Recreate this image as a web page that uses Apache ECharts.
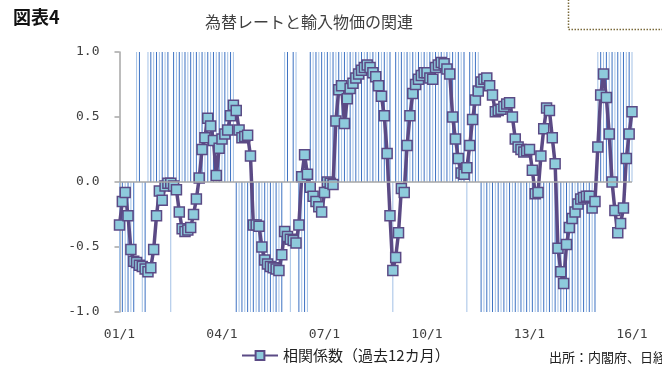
<!DOCTYPE html>
<html>
<head>
<meta charset="utf-8">
<script src="https://cdn.jsdelivr.net/npm/echarts@6/dist/echarts.min.js"></script>
<style>
  html, body { margin: 0; padding: 0; background: #fff; }
  #chart { width: 662px; height: 369px; }
</style>
</head>
<body>
<div id="chart"></div>
<script>
// Monthly series, 2001/1 - 2016/1 (one row per year)
const startYear = 2001;
const corr12m = [
  -0.33,-0.15,-0.08,-0.26,-0.52,-0.61,-0.62,-0.64,-0.65,-0.67,-0.69,-0.66,
  -0.52,-0.26,-0.07,-0.14,-0.03,-0.01,-0.01,-0.03,-0.06,-0.23,-0.36,-0.38,
  -0.37,-0.35,-0.25,-0.13, 0.03, 0.25, 0.34, 0.49, 0.43, 0.32, 0.05, 0.26,
   0.33, 0.37, 0.40, 0.51, 0.59, 0.55, 0.40, 0.34, 0.35, 0.36, 0.20,-0.33,
  -0.33,-0.34,-0.50,-0.60,-0.63,-0.65,-0.66,-0.67,-0.68,-0.56,-0.38,-0.42,
  -0.44,-0.45,-0.47,-0.33, 0.04, 0.21, 0.06,-0.04,-0.11,-0.15,-0.19,-0.23,
  -0.08, 0.00,-0.01,-0.02, 0.47, 0.71, 0.74, 0.45, 0.64, 0.72, 0.76, 0.80,
   0.83, 0.86, 0.88, 0.90, 0.88, 0.84, 0.81, 0.74, 0.66, 0.51, 0.22,-0.26,
  -0.68,-0.58,-0.39,-0.05,-0.08, 0.28, 0.51, 0.68, 0.75, 0.79, 0.82, 0.84,
   0.84, 0.80, 0.79, 0.88, 0.90, 0.92, 0.91, 0.87, 0.83, 0.50, 0.33, 0.18,
   0.07, 0.06, 0.11, 0.28, 0.48, 0.63, 0.70, 0.77, 0.79, 0.80, 0.74, 0.67,
   0.54, 0.55, 0.56, 0.58, 0.60, 0.61, 0.50, 0.33, 0.27, 0.25, 0.23, 0.24,
   0.25, 0.09,-0.09,-0.08, 0.20, 0.41, 0.57, 0.55, 0.34, 0.14,-0.51,-0.69,
  -0.78,-0.48,-0.35,-0.28,-0.23,-0.17,-0.13,-0.12,-0.11,-0.11,-0.20,-0.15,
   0.27, 0.67, 0.83, 0.65, 0.37, 0.00,-0.22,-0.39,-0.32,-0.20, 0.18, 0.37,
   0.54
];
// Shading: +1 / -1 phase flag for each month
const phase = [
  -1,-1,-1,-1,-1,-1, 1, 1,-1,-1, 1, 1,
   1, 1, 1, 1, 1, 1,-1, 1, 1, 1, 1, 1,
   1, 1, 1, 1, 1, 1, 1, 1, 1, 1, 1, 1,
   1, 1, 1, 1, 1,-1,-1,-1,-1,-1,-1,-1,
  -1,-1,-1,-1,-1,-1,-1,-1,-1,-1, 1, 1,
  -1, 1, 1,-1,-1,-1,-1, 1, 1, 1, 1, 1,
   1, 1, 1, 1, 1, 1, 1, 1, 1, 1, 1, 1,
   1, 1, 1, 1, 1, 1, 1, 1, 1, 1, 1, 1,
  -1, 1, 1, 1, 1, 1, 1, 1, 1, 1, 1, 1,
   1, 1, 1, 1, 1, 1, 1, 1, 1, 1, 1, 1,
   1, 1,-1, 1, 1, 1, 1,-1,-1,-1,-1,-1,
  -1,-1,-1,-1,-1,-1,-1,-1,-1,-1,-1,-1,
  -1,-1,-1,-1,-1,-1,-1,-1,-1,-1,-1,-1,
  -1,-1,-1,-1,-1,-1,-1,-1,-1,-1,-1,-1,
   1, 1, 1, 1, 1, 1, 1, 1, 1, 1, 1, 1,
   1
];
const yTicks = [-1.0, -0.5, 0.0, 0.5, 1.0];
const seriesName = '相関係数（過去12カ月）';

// Category labels "yy/m"
const months = corr12m.map((_, i) => {
  const y = startYear + Math.floor(i / 12);
  return String(y % 100).padStart(2, '0') + '/' + (i % 12 + 1);
});

const chart = echarts.init(document.getElementById('chart'), null, { renderer: 'canvas' });
const monoFont = '"DejaVu Sans Mono", monospace';
const jpFont = '"Noto Sans CJK JP", sans-serif';

chart.setOption({
  animation: false,
  backgroundColor: '#ffffff',
  grid: { left: 119.5, right: 30, top: 52, bottom: 57, containLabel: false },
  xAxis: {
    type: 'category',
    data: months,
    boundaryGap: false,
    axisLine: { show: false },
    axisTick: { show: false },
    axisLabel: {
      interval: 35,
      margin: 16,
      color: '#404040',
      fontFamily: monoFont,
      fontSize: 13
    },
    splitLine: { show: false }
  },
  yAxis: {
    type: 'value',
    min: yTicks[0],
    max: yTicks[yTicks.length - 1],
    interval: 0.5,
    axisLine: { show: true, lineStyle: { color: '#a6a6a6', width: 1.5 } },
    axisTick: { show: true, length: 5, lineStyle: { color: '#a6a6a6', width: 1.5 } },
    axisLabel: {
      margin: 20,
      color: '#404040',
      fontFamily: monoFont,
      fontSize: 13,
      formatter: v => v.toFixed(1)
    },
    splitLine: { show: false }
  },
  legend: {
    data: [seriesName],
    left: 236,
    top: 343,
    itemWidth: 36,
    itemHeight: 11,
    itemGap: 2,
    textStyle: { fontFamily: jpFont, fontSize: 15, color: '#222' }
  },
  series: [
    {
      name: 'phase',
      type: 'bar',
      data: phase,
      barWidth: 1,
      itemStyle: {
        // alternate two blues so the thin month bars read as a hatch
        color: p => (p.dataIndex % 2 ? '#3c71c2' : '#a3c1e6')
      },
      silent: true,
      z: 1,
      markLine: {
        silent: true,
        symbol: 'none',
        label: { show: false },
        lineStyle: { color: '#a6a6a6', width: 1.5, type: 'solid' },
        data: [{ yAxis: 0 }]
      }
    },
    {
      name: seriesName,
      type: 'line',
      data: corr12m,
      symbol: 'rect',
      symbolSize: 10,
      showSymbol: true,
      showAllSymbol: true,
      lineStyle: { color: '#5b4a85', width: 3.5 },
      itemStyle: { color: '#8ecbdc', borderColor: '#5b4a85', borderWidth: 1.5 },
      z: 3
    }
  ],
  graphic: [
    {
      type: 'text', left: 13, top: 8,
      style: { text: '図表4', font: 'bold 18px ' + jpFont, fill: '#111' }
    },
    {
      type: 'text', x: 309, y: 22,
      style: { text: '為替レートと輸入物価の関連', font: '16px ' + jpFont, fill: '#404040',
               textAlign: 'center', textVerticalAlign: 'middle' }
    },
    {
      type: 'rect', shape: { x: 568.5, y: -5, width: 120, height: 34.5 },
      style: { fill: 'none', stroke: '#7a6a3a', lineWidth: 1.5, lineDash: [1.5, 1.5] }
    },
    {
      type: 'text', x: 549, y: 357,
      style: { text: '出所：内閣府、日経', font: '13px ' + jpFont, fill: '#222',
               textVerticalAlign: 'middle' }
    }
  ]
});
</script>
</body>
</html>
